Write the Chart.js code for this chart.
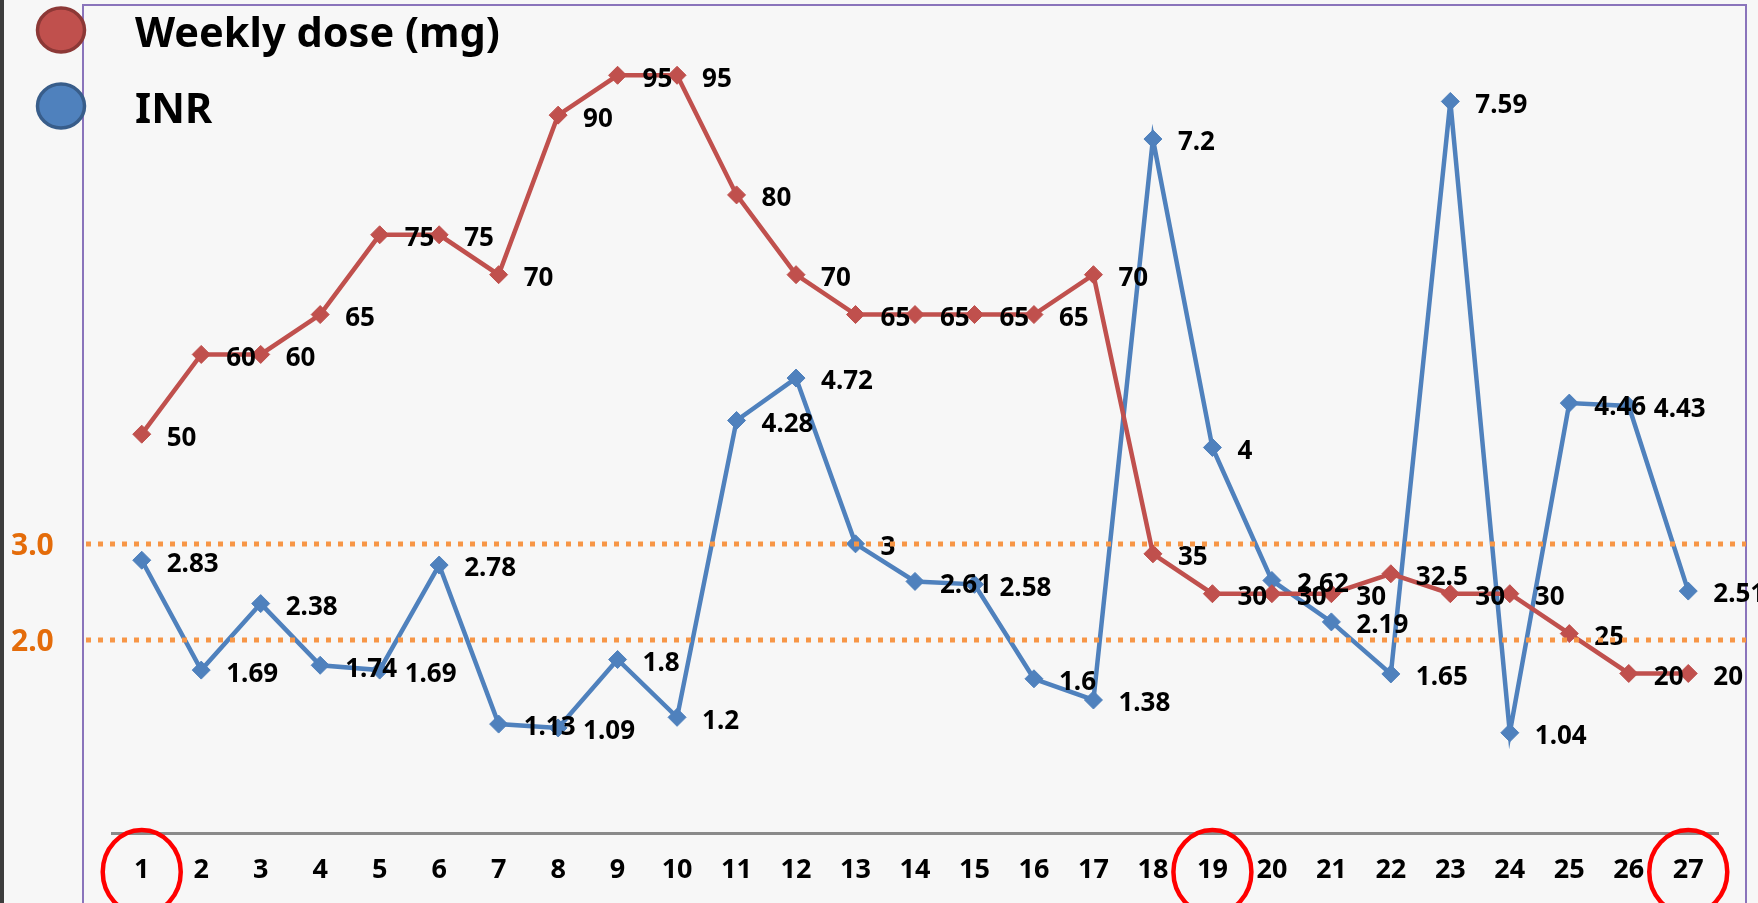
<!DOCTYPE html>
<html>
<head>
<meta charset="utf-8">
<script src="https://cdn.jsdelivr.net/npm/chart.js@4.4.1/dist/chart.umd.min.js"></script>
<style>
  html, body { margin: 0; padding: 0; background: #f7f7f7; overflow: hidden; }
  #wrap { position: relative; width: 1758px; height: 903px; }
  #strip { position: absolute; left: 0; top: 0; width: 4px; height: 903px; background: #3d3d3d; }
  canvas { display: block; }
</style>
</head>
<body>
<div id="wrap">
  <canvas id="c" width="1758" height="903"></canvas>
  <div id="strip"></div>
</div>
<script>
// Visit numbers along the bottom axis
const visits = ['1','2','3','4','5','6','7','8','9','10','11','12','13','14','15','16','17','18','19','20','21','22','23','24','25','26','27'];

// Warfarin weekly dose (mg) at each visit
const weeklyDose = [50, 60, 60, 65, 75, 75, 70, 90, 95, 95, 80, 70, 65, 65, 65, 65, 70, 35, 30, 30, 30, 32.5, 30, 30, 25, 20, 20];

// INR measured at each visit
const inrValues = [2.83, 1.69, 2.38, 1.74, 1.69, 2.78, 1.13, 1.09, 1.8, 1.2, 4.28, 4.72, 3, 2.61, 2.58, 1.6, 1.38, 7.2, 4, 2.62, 2.19, 1.65, 7.59, 1.04, 4.46, 4.43, 2.51];

// INR therapeutic range bounds
const inrRangeLines = [3.0, 2.0];
const inrRangeLabels = ['3.0', '2.0'];

// Visits marked with a red ring
const markedVisits = ['1', '19', '27'];

const seriesNames = ['Weekly dose (mg)', 'INR'];

const RED = '#c0504d', RED_DARK = '#8c3836';
const BLUE = '#4f81bd', BLUE_DARK = '#385d8a';
const ORANGE = '#f79646', ORANGE_TEXT = '#e46c0a';
const FONT = '"Noto Sans", "DejaVu Sans", sans-serif';

const decor = {
  id: 'decor',
  beforeDraw(chart) {
    const ctx = chart.ctx;
    ctx.save();
    ctx.fillStyle = '#f7f7f7';
    ctx.fillRect(0, 0, chart.width, chart.height);
    // outer frame
    ctx.strokeStyle = '#8a74bb';
    ctx.lineWidth = 2;
    ctx.strokeRect(83, 5, 1663, 940);
    ctx.restore();
  },
  afterDatasetsDraw(chart) {
    const ctx = chart.ctx;
    ctx.save();
    ctx.fillStyle = '#000';
    ctx.font = 'bold 26px ' + FONT;
    ctx.textAlign = 'left';
    ctx.textBaseline = 'middle';
    chart.data.datasets.forEach((ds, di) => {
      const meta = chart.getDatasetMeta(di);
      meta.data.forEach((pt, i) => {
        ctx.fillText(String(ds.data[i]), pt.x + 25, pt.y + 4);
      });
    });
    ctx.restore();
  },
  afterDraw(chart) {
    const ctx = chart.ctx;
    const yI = chart.scales.yInr;
    const xs = chart.scales.x;
    ctx.save();

    // INR range lines
    ctx.strokeStyle = ORANGE;
    ctx.lineWidth = 5;
    ctx.setLineDash([5, 7]);
    inrRangeLines.forEach((v, k) => {
      const y = Math.round(yI.getPixelForValue(v));
      ctx.beginPath();
      ctx.moveTo(86, y);
      ctx.lineTo(1746, y);
      ctx.stroke();
      ctx.fillStyle = ORANGE_TEXT;
      ctx.font = 'bold 30px ' + FONT;
      ctx.textAlign = 'left';
      ctx.textBaseline = 'middle';
      ctx.fillText(inrRangeLabels[k], 11, y + 2);
    });
    ctx.setLineDash([]);

    // red rings around marked visits
    ctx.strokeStyle = '#ff0000';
    ctx.lineWidth = 4.5;
    markedVisits.forEach(v => {
      const x = xs.getPixelForValue(visits.indexOf(v));
      ctx.beginPath();
      ctx.ellipse(x, 872, 39, 42, 0, 0, Math.PI * 2);
      ctx.stroke();
    });

    // legend
    const items = [
      { fill: RED, stroke: RED_DARK, y: 30 },
      { fill: BLUE, stroke: BLUE_DARK, y: 106 }
    ];
    items.forEach((it, k) => {
      ctx.beginPath();
      ctx.ellipse(61, it.y, 23.5, 22, 0, 0, Math.PI * 2);
      ctx.fillStyle = it.fill;
      ctx.fill();
      ctx.lineWidth = 3.5;
      ctx.strokeStyle = it.stroke;
      ctx.stroke();
      ctx.fillStyle = '#000';
      ctx.font = 'bold 41.5px ' + FONT;
      ctx.textAlign = 'left';
      ctx.textBaseline = 'middle';
      ctx.fillText(seriesNames[k], 135, it.y + 5);
    });
    ctx.restore();
  }
};

new Chart(document.getElementById('c'), {
  type: 'line',
  data: {
    labels: visits,
    datasets: [
      {
        label: seriesNames[0],
        data: weeklyDose,
        yAxisID: 'yDose',
        borderColor: RED,
        backgroundColor: RED,
        borderWidth: 4.5,
        pointStyle: 'rectRot',
        pointRadius: 9,
        pointBorderWidth: 1,
        pointBackgroundColor: RED,
        pointBorderColor: RED,
        tension: 0,
        clip: false
      },
      {
        label: seriesNames[1],
        data: inrValues,
        yAxisID: 'yInr',
        borderColor: BLUE,
        backgroundColor: BLUE,
        borderWidth: 4.5,
        pointStyle: 'rectRot',
        pointRadius: 9,
        pointBorderWidth: 1,
        pointBackgroundColor: BLUE,
        pointBorderColor: BLUE,
        tension: 0,
        clip: false
      }
    ]
  },
  options: {
    responsive: false,
    animation: false,
    devicePixelRatio: 1,
    layout: { padding: { left: 112, right: 40, top: 33, bottom: 0 } },
    plugins: { legend: { display: false }, tooltip: { enabled: false } },
    scales: {
      x: {
        type: 'category',
        offset: true,
        grid: { display: false, drawTicks: false },
        border: { display: true, color: '#8a8a8a', width: 3 },
        ticks: {
          color: '#000',
          font: { family: FONT, weight: 'bold', size: 27 },
          padding: 21,
          maxRotation: 0,
          autoSkip: false
        },
        afterFit(s) { s.height = 70; }
      },
      yDose: { display: false, min: 0, max: 100.3 },
      yInr: { display: false, min: 0, max: 8.3 }
    }
  },
  plugins: [decor]
});
</script>
</body>
</html>
